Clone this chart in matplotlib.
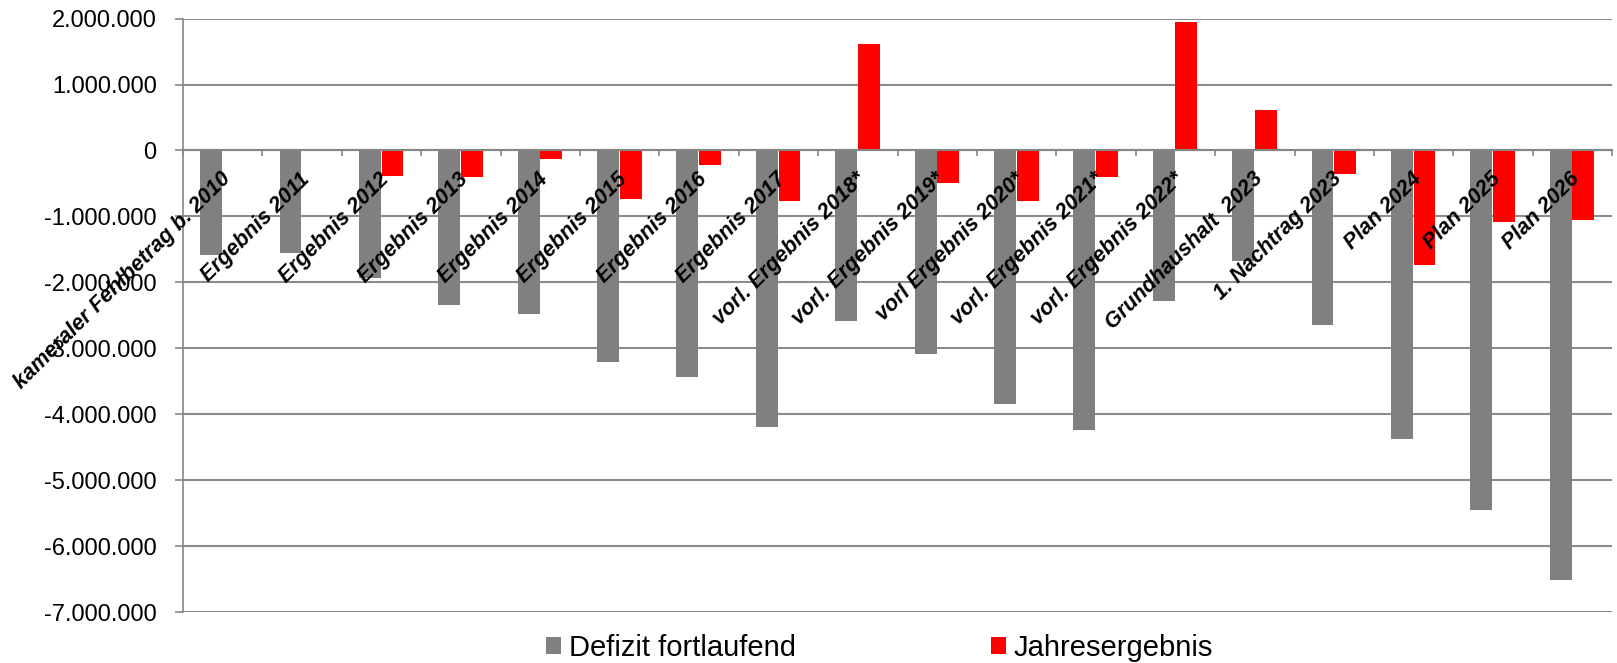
import numpy as np
import matplotlib
matplotlib.use("Agg")
import matplotlib.pyplot as plt
from matplotlib.ticker import FuncFormatter, MultipleLocator

plt.rcParams['font.family'] = ['Liberation Sans', 'DejaVu Sans']

# Kategorien (x-Achse)
kategorien = ['kameraler Fehlbetrag b. 2010', 'Ergebnis 2011', 'Ergebnis 2012',
              'Ergebnis 2013', 'Ergebnis 2014', 'Ergebnis 2015', 'Ergebnis 2016',
              'Ergebnis 2017', 'vorl. Ergebnis 2018*', 'vorl. Ergebnis 2019*',
              'vorl Ergebnis 2020*', 'vorl. Ergebnis 2021*', 'vorl. Ergebnis 2022*',
              'Grundhaushalt  2023', '1. Nachtrag 2023', 'Plan 2024', 'Plan 2025',
              'Plan 2026']

# Defizit fortlaufend (grau)
defizit = [-1580000, -1560000, -1940000, -2350000, -2480000, -3210000, -3430000,
           -4200000, -2580000, -3080000, -3840000, -4240000, -2280000, -1670000,
           -2640000, -4370000, -5460000, -6520000]

# Jahresergebnis (rot)
jahresergebnis = [np.nan, 25000, -390000, -410000, -136000, -730000, -220000,
                  -770000, 1620000, -500000, -760000, -410000, 1955000, 620000,
                  -350000, -1730000, -1090000, -1050000]

fig = plt.figure(figsize=(16.17, 6.63), dpi=100)
ax = fig.add_axes([0.1132, 0.0769, 0.8838, 0.8951])

x = np.arange(len(kategorien))
bw = 0.275
ax.bar(x - bw / 2 - 0.01, defizit, width=bw, color='#808080', label='Defizit fortlaufend', zorder=3)
ax.bar(x + bw / 2, jahresergebnis, width=bw, color='#ff0000', label='Jahresergebnis', zorder=3)

ax.set_xlim(-0.5, len(kategorien) - 0.5)
ax.set_ylim(-7000000, 2000000)
ax.yaxis.set_major_locator(MultipleLocator(1000000))
ax.yaxis.set_major_formatter(FuncFormatter(lambda v, p: f"{int(round(v)):,}".replace(',', '.')))
ax.grid(axis='y', color='#8c8c8c', linewidth=1.5, zorder=0)
ax.set_axisbelow(True)

for s in ['top', 'right']:
    ax.spines[s].set_visible(False)
ax.spines['left'].set_color('#868686')
ax.spines['left'].set_linewidth(1.2)
ax.spines['bottom'].set_position(('data', 0))
ax.spines['bottom'].set_color('#868686')
ax.spines['bottom'].set_linewidth(1.5)
ax.spines['bottom'].set_zorder(4)

ax.tick_params(axis='y', labelsize=17, length=6, width=1.2, color='#868686', pad=13)
ax.set_xticks(x)
ax.set_xticklabels([])
ax.tick_params(axis='x', which='major', length=0)
ax.set_xticks(np.arange(len(kategorien) + 1) - 0.5, minor=True)
ax.tick_params(axis='x', which='minor', length=4, width=1.2, color='#868686', direction='out')

# Beschriftungen schräg an der Nulllinie
for xi, lab in zip(x, kategorien):
    ax.annotate(lab, xy=(xi, 0), xytext=(8.5, -13), textcoords='offset points',
                rotation=45, ha='right', va='top', fontsize=15.5,
                fontweight='bold', fontstyle='italic', zorder=5)

fig.legend(loc='center', bbox_to_anchor=(0.544, 0.0226), ncol=2, frameon=False,
           fontsize=21, handlelength=0.52, handleheight=0.5, handletextpad=0.25,
           columnspacing=6.7, borderaxespad=0)

fig.savefig('out.png', dpi=100)
